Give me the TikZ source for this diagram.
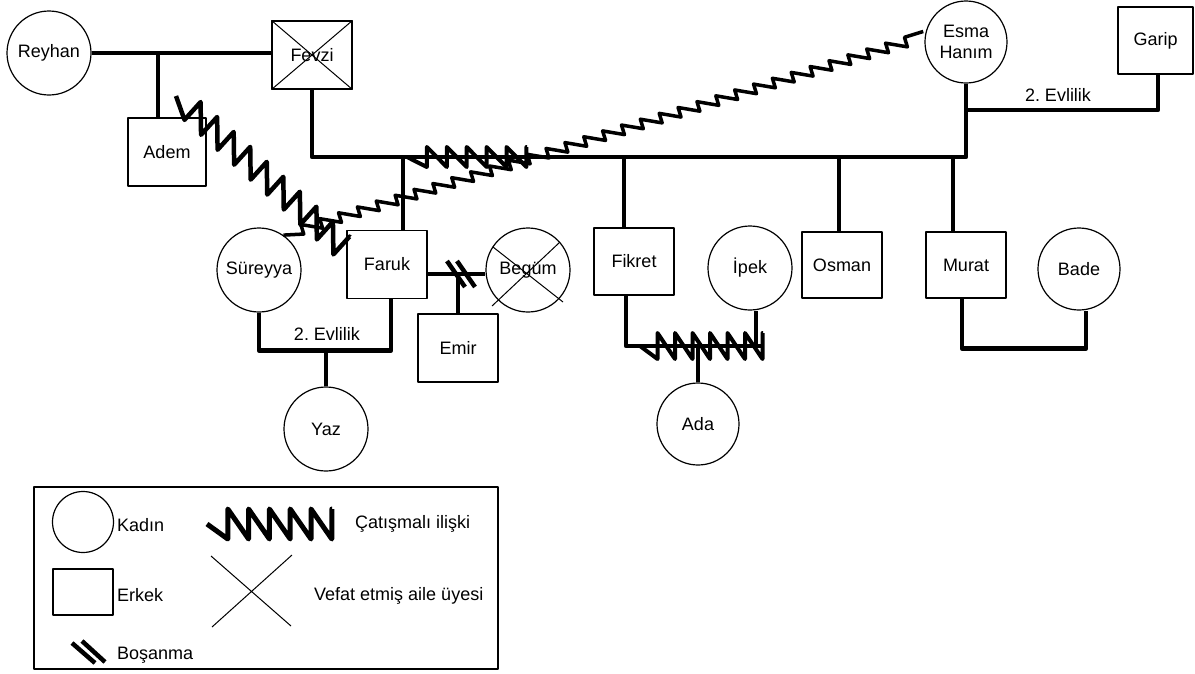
\documentclass[tikz,border=0pt]{standalone}
\usepackage{fontspec}
\setmainfont{Liberation Sans}
\usetikzlibrary{decorations.pathmorphing}
\tikzset{
	kadin/.style={draw, circle, line width=1.2pt, minimum size=84pt, inner sep=0pt},
	erkek/.style={draw, rectangle, line width=1.2pt, minimum width=80pt, minimum height=68pt, inner sep=0pt},
	bag/.style={line width=4.5pt},
	bosanma/.style={line width=4.5pt},
	vefat/.style={line width=1pt},
	catisma/.style n args={3}{line width=#3, decorate, decoration={saw, segment length=#1, amplitude=-#2, raise=#2/2}},
	yazi/.style={anchor=west, inner sep=0pt}
}
\begin{document}
\frenchspacing
\begin{tikzpicture}[x=1pt, y=-1pt, font=\fontsize{18}{21}\selectfont, line join=round]
	\useasboundingbox (0,0) rectangle (1195,673);
	\node[kadin] (reyhan) at (49,53) {Reyhan};
	\node[erkek] (fevzi) at (312,55) {Fevzi};
	\node[erkek, minimum width=78pt] (adem) at (167,152) {Adem};
	\node[kadin, minimum size=82pt, align=center] (esma) at (966,42) {Esma\\Hanım};
	\node[erkek, minimum width=75pt, minimum height=67pt] (garip) at (1155.5,40.5) {Garip};
	\node[kadin] (sureyya) at (259,270) {Süreyya};
	\node[erkek] (faruk) at (387,264.5) {Faruk};
	\node[kadin] (begum) at (528,270) {Begüm};
	\node[erkek] (emir) at (458,348) {Emir};
	\node[kadin] (yaz) at (326,429) {Yaz};
	\node[erkek, minimum height=67pt] (fikret) at (634,261.5) {Fikret};
	\node[kadin] (ipek) at (750,268) {İpek};
	\node[kadin, minimum size=82pt] (ada) at (698,424) {Ada};
	\node[erkek, minimum height=66pt] (osman) at (842,265) {Osman};
	\node[erkek, minimum height=66pt] (murat) at (966,265) {Murat};
	\node[kadin, minimum size=82pt] (bade) at (1079,269) {Bade};
	\path (158,53) coordinate (rf) (0,157) coordinate (hat)
		(403,157) coordinate (k1) (624,157) coordinate (k2) (839,157) coordinate (k3) (953,157) coordinate (k4)
		(967,110) coordinate (g1) (461,274) coordinate (bs) (640,346) coordinate (fi1) (763,346) coordinate (fi2)
		(176,96) coordinate (z1) (342,246) coordinate (z2) (407,157) coordinate (h1) (527,157) coordinate (h2);
	\draw[vefat] (fevzi.north west) -- (fevzi.south east) (fevzi.north east) -- (fevzi.south west);
	\draw[vefat] ([shift={(-35,-23)}]begum.center) -- ([shift={(35,32)}]begum.center)
		([shift={(32,-28)}]begum.center) -- ([shift={(-36,36)}]begum.center);
	\draw[bag] (reyhan.east) -- (reyhan.east -| fevzi.west);
	\draw[bag] (rf) -- (rf |- adem.north);
	\draw[bag] (fevzi.south) |- (esma.south |- hat) -- (esma.south);
	\foreach \k/\n in {k1/faruk,k2/fikret,k3/osman,k4/murat}
	{
		\draw[bag] (\k) -- (\k |- \n.north);
	}
	\draw[bag] (g1) -| ([xshift=2.5pt]garip.south);
	\node (ev2) at (1058,95) {2. Evlilik};
	\path ([yshift=-9.5pt]faruk.east) coordinate (fb);
	\draw[bag] (fb) -- (fb -| begum.west);
	\draw[bag] (emir.north) -- (emir.north |- fb);
	\foreach \d in {-5,5}
	{
		\draw[bosanma] ([shift={(\d-9,-13)}]bs) -- ([shift={(\d+9,13)}]bs);
	}
	\draw[bag] (sureyya.south) -- ++(0,38) coordinate (se) -| ([xshift=4pt]faruk.south);
	\node (ev1) at (327,334) {2. Evlilik};
	\draw[bag] (yaz.north) -- (yaz.north |- se);
	\draw[bag] ([xshift=-8pt]fikret.south) |- (fi2);
	\draw[bag] ([xshift=6pt]ipek.south) -- ([xshift=6pt]ipek.south |- fi2);
	\draw[bag] (ada.north) -- (ada.north |- fi2);
	\draw[bag] ([xshift=-4pt]murat.south) -- ++(0,50) -| ([xshift=7pt]bade.south);
	\draw[catisma={17.5pt}{26pt}{4pt}] (fi1) -- (fi2);
	\draw[catisma={22.3pt}{24pt}{4.5pt}] (z1) -- (z2);
	\draw[catisma={19.9pt}{20pt}{4pt}] (h1) -- (h2);
	\draw[catisma={19.75pt}{10pt}{3.5pt}] (sureyya.55) -- (esma.172);
	\draw[line width=1.3pt] (34,487) rectangle (498,669);
	\node[kadin, minimum size=61pt] (lkadin) at (83,522) {};
	\node[yazi] (tkadin) at (117,525) {Kadın};
	\node[erkek, minimum width=60pt, minimum height=46pt] (lerkek) at (83,592) {};
	\node[yazi] (terkek) at (117,595) {Erkek};
	\draw[bosanma] (72,643) -- (95,663) (82,641) -- (105,662);
	\node[yazi] (tbosanma) at (117,655) {Boşanma};
	\draw[catisma={20.8pt}{30pt}{5pt}] (207,524) -- (332,524);
	\node[yazi] (tcatisma) at (355,524) {Çatışmalı ilişki};
	\draw[vefat] (211,556) -- (291,626) (292,555) -- (212,627);
	\node[yazi] (tvefat) at (314,596) {Vefat etmiş aile üyesi};
\end{tikzpicture}
\end{document}
